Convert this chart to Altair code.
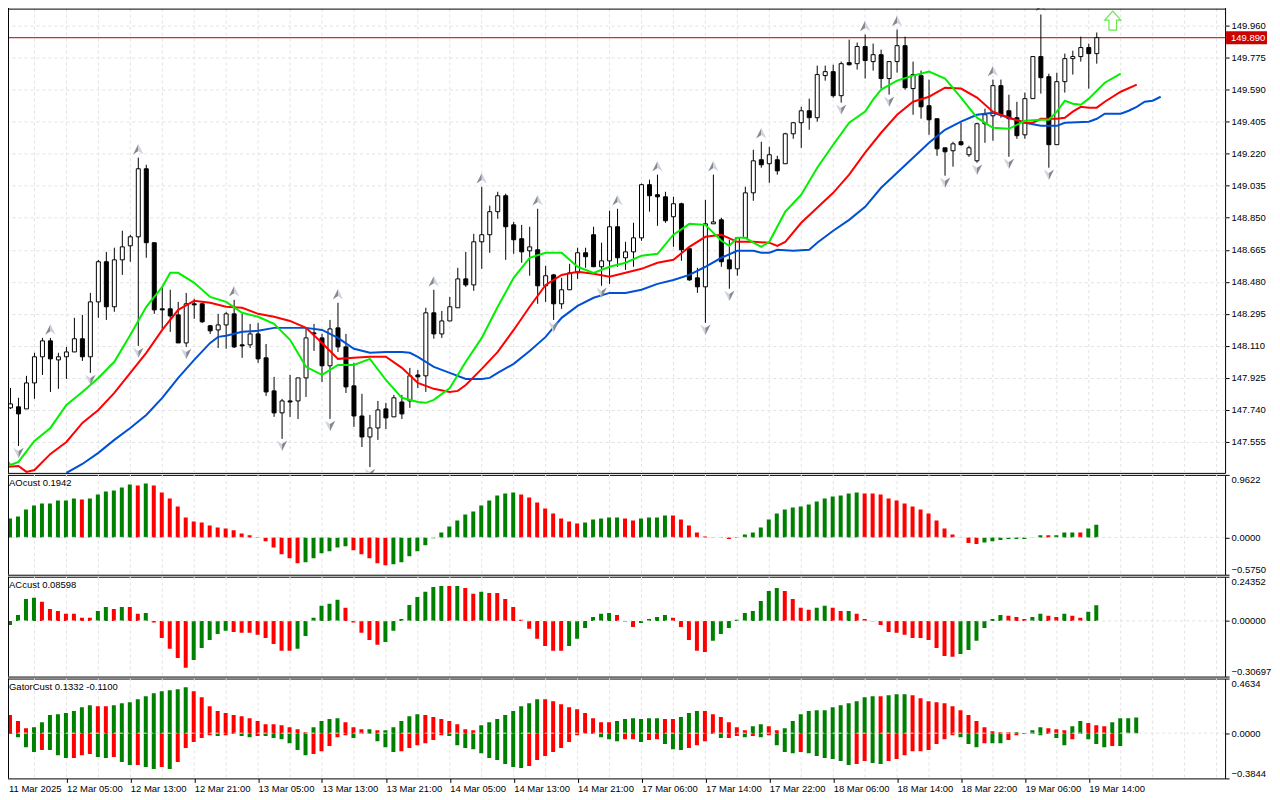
import json
import re
import altair as alt
import pandas as pd

FONT = "Liberation Sans"

# ---------- candles (bar index = position in list) ----------
opens = [147.833,147.752,147.758,147.746,147.896,148.047,148.139,148.029,148.047,148.075,148.151,148.047,148.364,148.596,148.336,148.607,148.688,148.740,149.133,148.706,
148.324,148.324,148.289,148.127,148.353,148.353,148.226,148.202,148.231,148.295,148.116,148.116,148.179,148.041,147.850,147.723,147.792,147.792,147.925,148.185,
148.156,147.995,148.214,148.104,147.879,147.705,147.584,147.636,147.746,147.700,147.786,147.792,147.942,147.937,148.301,148.179,148.254,148.330,148.497,148.462,
148.711,148.752,148.885,148.977,148.809,148.729,148.659,148.665,148.457,148.520,148.353,148.434,148.532,148.648,148.752,148.567,148.601,148.798,148.619,148.653,
148.734,149.041,148.983,148.971,148.856,148.931,148.671,148.503,148.451,148.815,148.838,148.607,148.555,148.734,148.994,149.185,149.162,149.185,149.162,149.335,
149.399,149.468,149.428,149.671,149.694,149.555,149.746,149.740,149.839,149.752,149.792,149.654,149.752,149.844,149.596,149.671,149.497,149.422,149.254,149.237,
149.289,149.214,149.179,149.393,149.439,149.613,149.468,149.428,149.329,149.538,149.781,149.665,149.272,149.636,149.769,149.781,149.833,149.798]
highs = [147.856,147.867,147.810,147.937,148.070,148.156,148.156,148.070,148.104,148.272,148.289,148.416,148.607,148.653,148.677,148.775,148.752,149.197,149.156,148.706,
148.451,148.434,148.364,148.416,148.382,148.359,148.231,148.295,148.307,148.376,148.295,148.237,148.243,148.121,147.931,147.804,147.942,147.925,148.214,148.237,
148.180,148.260,148.359,148.179,148.012,147.833,147.711,147.792,147.781,147.827,147.827,147.983,147.971,148.330,148.434,148.312,148.393,148.561,148.653,148.757,
149.029,148.920,149.000,148.989,148.826,148.809,148.798,148.902,148.573,148.526,148.503,148.584,148.677,148.677,148.798,148.706,148.891,148.902,148.711,148.821,
149.047,149.070,149.099,149.000,148.971,148.937,148.671,148.561,148.954,149.099,148.850,148.723,148.734,149.029,149.243,149.289,149.260,149.208,149.341,149.399,
149.491,149.538,149.729,149.729,149.734,149.752,149.879,149.862,149.908,149.856,149.821,149.752,149.937,149.896,149.752,149.700,149.648,149.422,149.254,149.289,
149.399,149.266,149.399,149.480,149.648,149.648,149.561,149.520,149.573,149.781,150.024,149.682,149.688,149.798,149.815,149.896,149.856,149.920]
lows = [147.740,147.746,147.532,147.746,147.804,147.942,147.844,147.862,147.919,148.075,148.023,147.954,148.272,148.260,148.307,148.520,148.596,148.110,148.619,148.295,
148.208,148.191,148.127,148.104,148.266,148.243,148.179,148.098,148.093,148.098,148.041,148.098,148.012,147.821,147.700,147.573,147.700,147.688,147.815,148.081,
147.902,147.688,148.075,147.838,147.642,147.526,147.410,147.567,147.630,147.700,147.688,147.752,147.867,147.844,148.151,148.156,148.254,148.330,148.451,148.428,
148.555,148.648,148.844,148.607,148.642,148.590,148.515,148.353,148.364,148.260,148.324,148.434,148.497,148.561,148.567,148.457,148.468,148.567,148.549,148.567,
148.717,148.885,148.804,148.821,148.682,148.601,148.486,148.416,148.243,148.815,148.567,148.440,148.515,148.734,148.948,149.139,149.052,149.099,149.162,149.306,
149.254,149.358,149.405,149.642,149.544,149.515,149.729,149.706,149.654,149.700,149.596,149.561,149.688,149.590,149.445,149.422,149.329,149.208,149.093,149.145,
149.266,149.202,149.168,149.283,149.295,149.428,149.202,149.306,149.306,149.538,149.567,149.139,149.272,149.573,149.677,149.752,149.596,149.740]
closes = [147.758,147.775,147.717,147.896,148.047,148.139,148.035,148.047,148.075,148.151,148.047,148.364,148.596,148.336,148.607,148.682,148.740,149.133,148.706,148.318,
148.318,148.283,148.127,148.353,148.347,148.249,148.197,148.231,148.295,148.104,148.110,148.179,148.035,147.844,147.723,147.792,147.786,147.925,148.156,148.179,
147.995,148.208,148.104,147.873,147.705,147.584,147.636,147.740,147.694,147.810,147.717,147.937,147.931,148.301,148.179,148.254,148.336,148.497,148.462,148.711,
148.752,148.885,148.977,148.798,148.723,148.653,148.682,148.457,148.515,148.353,148.434,148.532,148.648,148.625,148.567,148.601,148.798,148.619,148.653,148.734,
149.041,148.977,148.971,148.833,148.931,148.665,148.491,148.451,148.815,148.826,148.596,148.555,148.734,148.994,149.179,149.156,149.214,149.121,149.335,149.399,
149.468,149.428,149.677,149.694,149.555,149.740,149.734,149.839,149.758,149.792,149.654,149.752,149.844,149.601,149.677,149.491,149.416,149.248,149.231,149.277,
149.272,149.254,149.393,149.445,149.613,149.445,149.422,149.324,149.538,149.781,149.659,149.272,149.636,149.769,149.781,149.833,149.798,149.890]

# ---------- averages ----------
green_i = [0,1,2,4,6,8,10,12,14,16,18,20,21,22,24,26,28,30,32,34,36,38,40,42,44,46,48,50,52,53,54,56,58,60,62,64,66,68,70,72,74,76,78,80,82,84,86,88,90,91,92,93,94,95,96,98,100,102,104,106,108,109,110,112,114,116,118,120,122,124,126,128,130,131,132,133,134,135,136,138,140]
green_v = [147.480,147.422,147.440,147.561,147.636,147.769,147.844,147.925,148.018,148.173,148.336,148.451,148.532,148.532,148.474,148.393,148.364,148.301,148.278,148.237,148.145,147.989,147.942,148.000,148.000,148.035,147.913,147.810,147.786,147.781,147.798,147.867,148.018,148.156,148.336,148.503,148.619,148.648,148.648,148.567,148.532,148.567,148.590,148.631,148.642,148.752,148.815,148.809,148.717,148.688,148.734,148.734,148.706,148.682,148.711,148.885,148.983,149.139,149.272,149.399,149.463,149.532,149.590,149.642,149.671,149.694,149.654,149.544,149.428,149.370,149.364,149.410,149.416,149.416,149.463,149.526,149.509,149.503,149.538,149.630,149.682]
red_i = [0,2,3,4,6,8,10,12,14,16,18,20,22,24,26,28,30,32,34,36,38,40,42,44,46,48,50,52,54,56,57,58,60,62,64,66,68,70,72,74,76,78,80,82,84,86,88,90,92,94,96,97,98,100,102,104,106,108,110,112,114,116,118,120,122,124,126,128,129,130,132,133,134,135,136,137,138,140,142]
red_v = [147.410,147.416,147.382,147.393,147.486,147.555,147.665,147.740,147.838,147.954,148.070,148.202,148.318,148.370,148.359,148.336,148.330,148.295,148.278,148.254,148.214,148.127,148.035,148.041,148.047,148.047,147.983,147.896,147.862,147.844,147.850,147.884,147.977,148.075,148.202,148.336,148.462,148.520,148.538,148.526,148.509,148.532,148.555,148.590,148.607,148.682,148.740,148.752,148.711,148.711,148.706,148.688,148.711,148.821,148.908,148.994,149.099,149.226,149.341,149.445,149.520,149.549,149.601,149.596,149.544,149.463,149.428,149.399,149.399,149.422,149.422,149.428,149.463,149.491,149.486,149.486,149.520,149.578,149.619]
blue_i = [8,10,12,14,16,18,20,22,24,26,27,28,30,32,34,36,38,40,42,44,46,48,50,51,52,54,56,58,60,61,62,64,66,68,70,72,74,76,78,80,82,84,86,88,90,92,94,95,96,97,99,101,102,104,106,108,110,112,114,116,118,120,122,124,126,128,130,132,133,136,137,138,140,141,142,143,144,145]
blue_v = [147.376,147.428,147.492,147.567,147.636,147.711,147.810,147.925,148.029,148.127,148.162,148.168,148.191,148.197,148.214,148.214,148.214,148.202,148.156,148.093,148.070,148.075,148.075,148.070,148.047,147.989,147.954,147.919,147.919,147.925,147.954,148.006,148.081,148.162,148.272,148.341,148.388,148.416,148.416,148.434,148.468,148.491,148.520,148.567,148.619,148.659,148.659,148.648,148.648,148.665,148.659,148.665,148.706,148.775,148.838,148.913,149.023,149.110,149.197,149.283,149.358,149.405,149.445,149.457,149.428,149.399,149.381,149.381,149.399,149.405,149.422,149.451,149.451,149.468,149.491,149.520,149.526,149.549]

fractal_up = [6,17,29,42,54,60,67,77,82,89,95,108,112,124,130]
fractal_down = [2,11,17,23,35,41,46,69,75,88,91,105,111,118,122,126,131]

price_ticks = [147.555,147.740,147.925,148.110,148.295,148.480,148.665,148.850,149.035,149.220,149.405,149.590,149.775,149.960]
current_price = 149.890
signal_i, signal_price = 139, 149.989

first_time_label = "11 Mar 2025"
time_labels = ["","12 Mar 05:00","12 Mar 13:00","12 Mar 21:00","13 Mar 05:00","13 Mar 13:00","13 Mar 21:00","14 Mar 05:00","14 Mar 13:00","14 Mar 21:00","17 Mar 06:00","17 Mar 14:00","17 Mar 22:00","18 Mar 06:00","18 Mar 14:00","18 Mar 22:00","19 Mar 06:00","19 Mar 14:00"]

# ---------- AO ----------
ao_v = [.246,.292,.323,.430,.492,.522,.522,.568,.568,.599,.584,.599,.660,.707,.722,.768,.814,.799,.829,.799,.691,.599,.476,.307,.246,.230,.184,.154,.138,.108,.061,.031,.005,-.061,-.154,-.261,-.323,-.399,-.384,-.323,-.246,-.215,-.154,-.138,-.200,-.261,-.323,-.399,-.430,-.415,-.384,-.292,-.215,-.123,-.015,.077,.169,.261,.353,.399,.492,.568,.645,.676,.691,.660,.614,.538,.445,.369,.292,.246,.215,.230,.276,.292,.307,.307,.292,.261,.292,.307,.307,.338,.338,.276,.184,.077,.015,-.005,-.010,-.026,-.010,.046,.077,.154,.276,.369,.430,.461,.476,.507,.553,.599,.630,.645,.676,.691,.676,.676,.660,.599,.568,.522,.476,.430,.369,.261,.138,.046,.003,-.087,-.102,-.077,-.061,-.041,-.026,-.026,-.026,-.005,.031,.031,.031,.077,.077,.077,.138,.1942]
ao_runs = "R1G9R1G6R1G1R19G6R5G16R8G5R2G4R8G16R15G8R1G3R1G2"

# ---------- AC ----------
ac_v = [-.086,-.022,.033,.121,.127,.105,.066,.055,.039,.039,.017,.017,.055,.077,.066,.077,.077,.039,.044,-.009,-.094,-.154,-.204,-.259,-.215,-.149,-.105,-.072,-.055,-.061,-.066,-.066,-.077,-.094,-.127,-.165,-.165,-.154,-.083,.017,.083,.094,.116,.072,-.009,-.066,-.105,-.132,-.116,-.055,.011,.088,.132,.160,.187,.193,.193,.193,.182,.149,.160,.154,.154,.121,.077,.006,-.044,-.099,-.138,-.165,-.165,-.138,-.099,-.039,.022,.039,.044,.033,-.004,-.033,-.011,.011,.022,.033,.017,-.033,-.105,-.165,-.171,-.110,-.072,-.039,.006,.044,.055,.110,.165,.182,.165,.121,.072,.061,.072,.083,.072,.055,.055,.039,.011,-.002,-.022,-.061,-.066,-.077,-.094,-.094,-.105,-.149,-.193,-.198,-.182,-.160,-.110,-.039,.011,.033,.028,.022,.011,.022,.039,.028,.022,.039,.028,.017,.050,.0860]
ac_runs = "G5R7G2R1G1R2G1R5G5R8G6R5G8R1G1R2G1R10G6R3G4R5G9R4G2R2G1R13G6R3G2R2G1R2G2"

# ---------- Gator ----------
gu_v = [.170,.153,.102,.042,.051,.093,.153,.161,.170,.187,.220,.237,.229,.229,.237,.254,.263,.288,.314,.339,.356,.365,.373,.390,.356,.305,.229,.187,.170,.153,.144,.127,.102,.076,.076,.068,.051,.034,.008,.051,.102,.119,.127,.093,.051,.034,.034,.025,.025,.051,.102,.144,.161,.153,.136,.119,.102,.076,.034,.025,.068,.093,.119,.153,.187,.229,.254,.288,.288,.271,.246,.220,.203,.170,.127,.093,.093,.102,.119,.127,.119,.127,.127,.119,.119,.136,.170,.187,.187,.161,.136,.093,.051,.025,.059,.076,.059,.025,.042,.102,.161,.187,.195,.195,.220,.237,.254,.271,.305,.314,.314,.322,.331,.331,.322,.297,.271,.263,.254,.229,.195,.153,.102,.051,.017,.008,.008,.008,.001,.025,.051,.042,.034,.025,.059,.102,.085,.068,.059,.093,.127,.127,.1332]
gu_runs = "G1R3G8R2G10R15G4R3G1R1G5R7G8R9G6R2G3R6G2R2G12R1G3R13G1R1G2R3G2R3G4"
gl_v = [-.085,-.008,-.034,-.119,-.161,-.144,-.144,-.187,-.212,-.212,-.187,-.178,-.203,-.212,-.203,-.246,-.271,-.271,-.288,-.305,-.288,-.305,-.246,-.127,-.076,-.042,-.017,-.025,-.017,-.008,-.025,-.034,-.025,-.025,-.042,-.051,-.085,-.144,-.187,-.178,-.153,-.110,-.034,-.017,-.042,-.006,-.006,-.068,-.119,-.161,-.153,-.127,-.102,-.085,-.059,-.017,-.025,-.102,-.127,-.136,-.170,-.212,-.229,-.263,-.288,-.297,-.280,-.229,-.195,-.161,-.127,-.076,-.017,-.003,-.008,-.034,-.051,-.068,-.051,-.051,-.076,-.059,-.051,-.093,-.136,-.144,-.127,-.102,-.068,-.008,-.042,-.042,-.025,-.034,-.025,-.034,-.017,-.102,-.161,-.170,-.161,-.170,-.195,-.212,-.220,-.237,-.271,-.263,-.237,-.254,-.263,-.237,-.220,-.187,-.153,-.153,-.144,-.093,-.051,-.017,-.034,-.093,-.119,-.085,-.085,-.085,-.059,-.017,-.008,-.008,-.017,-.008,-.042,-.102,-.051,-.008,-.051,-.093,-.119,-.110,-.110]
gl_runs = "R1G4R1G3R3G2R1G2R1G2R1G1R5G1R1G3R1G6R5G1R1G4R6G10R7G5R2G1R2G3R4G1R2G1R1G1R1G3R1G6R2G2R9G3R1G2R4G1R1G2R2G3R1G1"


def expand(runs):
    return [c for c, k in re.findall(r"([GR])(\d+)", runs) for _ in range(int(k))]


# ---------- tables ----------
n = len(closes)
candles = pd.DataFrame({"i": range(n), "o": opens, "h": highs, "l": lows, "c": closes})
candles["dir"] = ["u" if c >= o else "d" for o, c in zip(opens, closes)]
up_df = pd.DataFrame({"i": fractal_up, "v": [highs[k] for k in fractal_up]})
down_df = pd.DataFrame({"i": fractal_down, "v": [lows[k] for k in fractal_down]})
grid_df = pd.DataFrame({"i": list(range(4, 153, 4))})
zero_df = pd.DataFrame({"v": [0.0]})

xs = alt.Scale(domain=[-0.0625, 153.0625], nice=False, zero=False, padding=0)
GRID = "#e2e2e2"
W = 1225


def X(axis=None):
    return alt.X("i:Q", scale=xs, axis=axis, title=None)


def vgrid(xaxis=None):
    return alt.Chart(grid_df).mark_rule(color=GRID, strokeDash=[3, 3], strokeWidth=1).encode(x=X(xaxis))


def left_edge():
    return alt.Chart(zero_df).mark_rule(color="black", strokeWidth=1).encode(
        x=alt.value(6.5), y=alt.value(0), y2=alt.value(471))


def time_axis():
    expr = json.dumps(time_labels) + "[datum.value/8]"
    return alt.Axis(values=list(range(0, 137, 8)), labelExpr=expr, labelAlign="left", labelFlush=False,
                    labelOverlap=False, labelFont=FONT, labelFontSize=9.5, labelColor="black", labelPadding=1,
                    tickSize=4, tickColor="black", domain=False, grid=False)


def y_axis(values, fmt, sub=False):
    kw = dict(values=values, format=fmt, orient="right", labelFont=FONT, labelFontSize=9.5, labelColor="black",
              labelPadding=2, labelFlush=False, labelOverlap=False, tickSize=4, tickColor="black", domain=False,
              grid=not sub, gridColor=GRID, gridDash=[3, 3], gridWidth=1)
    if sub:
        kw["labelBaseline"] = alt.expr("datum.value>0?'top':(datum.value<0?'bottom':'middle')")
    return alt.Axis(**kw)


# ---------- price pane ----------
ps = alt.Scale(domain=[147.3764, 150.0926], nice=False, zero=False)
P_AXIS = y_axis(price_ticks, ".3f")


def Yp(field):
    return alt.Y(field, scale=ps, axis=P_AXIS, title=None)


wicks = alt.Chart(candles).mark_rule(color="black", strokeWidth=1, clip=True).encode(x=X(), y=Yp("l:Q"), y2="h:Q")
bodies = alt.Chart(candles).mark_bar(size=4, stroke="black", strokeWidth=1, orient="vertical", clip=True).encode(
    x=X(), y=Yp("o:Q"), y2="c:Q",
    fill=alt.Fill("dir:N", scale=alt.Scale(domain=["u", "d"], range=["white", "black"]), legend=None))


def ma(idx, vals, colour):
    return alt.Chart(pd.DataFrame({"i": idx, "v": vals})).mark_line(
        color=colour, strokeWidth=2, clip=True, interpolate="linear").encode(x=X(), y=Yp("v:Q"))


U_L = "M0,-1 L-1,1 L0,0.35 Z"
U_R = "M0,-1 L1,1 L0,0.35 Z"
D_L = "M0,1 L-1,-1 L0,-0.35 Z"
D_R = "M0,1 L1,-1 L0,-0.35 Z"


def arrow(df, path, colour, off):
    return alt.Chart(df).mark_point(shape=path, size=110, filled=True, fill=colour, strokeWidth=0, opacity=1,
                                    yOffset=off, clip=True).encode(x=X(), y=Yp("v:Q"))


signal = alt.Chart(pd.DataFrame({"i": [signal_i], "v": [signal_price]})).mark_point(
    shape="M0,-1 L0.85,-0.05 L0.4,-0.05 L0.4,1 L-0.4,1 L-0.4,-0.05 L-0.85,-0.05 Z",
    size=361, filled=True, fill="white", stroke="#66e84a", strokeWidth=1.2, opacity=1).encode(x=X(), y=Yp("v:Q"))

cp = pd.DataFrame({"i": [0], "v": [current_price], "t": [f"{current_price:.3f}"]})
price_line = alt.Chart(cp).mark_rule(color="#b00000", strokeWidth=1).encode(y=Yp("v:Q"))
price_box = alt.Chart(cp).mark_rect(color="#cc0000", height=13).encode(x=alt.value(W + 1), x2=alt.value(W + 42), y=Yp("v:Q"))
price_text = alt.Chart(cp).mark_text(color="white", font=FONT, fontSize=9.5, align="left", baseline="middle").encode(
    x=alt.value(W + 6), y=Yp("v:Q"), text="t:N")
top_edge = alt.Chart(zero_df).mark_rule(color="black", strokeWidth=1).encode(
    y=alt.value(6.5), x=alt.value(6), x2=alt.value(W))

main = alt.layer(
    vgrid(), price_line, wicks, bodies,
    ma(blue_i, blue_v, "#0050d4"), ma(red_i, red_v, "#ff0000"), ma(green_i, green_v, "#00f000"),
    arrow(up_df, U_L, "#85888e", -8.5), arrow(up_df, U_R, "#cdd4de", -8.5),
    arrow(down_df, D_L, "#cdd4de", 7), arrow(down_df, D_R, "#85888e", 7),
    signal, price_box, price_text, top_edge, left_edge(),
).properties(width=W, height=471)


def bars(vals, dirs, scale, axis, xaxis=None):
    df = pd.DataFrame({"i": range(len(vals)), "v": vals, "d": dirs})
    return alt.Chart(df).mark_bar(size=4, orient="vertical", xOffset=-0.5, clip=True).encode(
        x=X(xaxis), y=alt.Y("v:Q", scale=scale, axis=axis, title=None),
        color=alt.Color("d:N", scale=alt.Scale(domain=["G", "R"], range=["#008000", "#ff0000"]), legend=None))


def zero_rule(scale, axis, xaxis=None):
    return alt.Chart(zero_df).mark_rule(color=GRID, strokeDash=[3, 3], strokeWidth=1).encode(
        y=alt.Y("v:Q", scale=scale, axis=axis, title=None))


def title(text, y=8):
    return alt.Chart(pd.DataFrame({"t": [text]})).mark_text(
        align="left", baseline="middle", font=FONT, fontSize=9.5, color="black").encode(
        x=alt.value(7), y=alt.value(y), text="t:N")


def sub_edge():
    return alt.Chart(zero_df).mark_rule(color="black", strokeWidth=1).encode(
        x=alt.value(6.5), y=alt.value(0), y2=alt.value(100))


ao_s = alt.Scale(domain=[-0.5750, 0.9622], nice=False, zero=False)
ac_s = alt.Scale(domain=[-0.30697, 0.24352], nice=False, zero=False)
gt_s = alt.Scale(domain=[-0.3844, 0.4634], nice=False, zero=False)
ao_a = y_axis([-0.5750, 0, 0.9622], ".4f", True)
ac_a = y_axis([-0.30697, 0, 0.24352], ".5f", True)
gt_a = y_axis([-0.3844, 0, 0.4634], ".4f", True)
t_a = time_axis()

ao = alt.layer(vgrid(), bars(ao_v, expand(ao_runs), ao_s, ao_a), zero_rule(ao_s, ao_a),
               title("AOcust 0.1942"), sub_edge()).properties(width=W, height=100)
ac = alt.layer(vgrid(), bars(ac_v, expand(ac_runs), ac_s, ac_a), zero_rule(ac_s, ac_a),
               title("ACcust 0.08598"), sub_edge()).properties(width=W, height=100)
gt = alt.layer(vgrid(t_a), bars(gu_v, expand(gu_runs), gt_s, gt_a, t_a), bars(gl_v, expand(gl_runs), gt_s, gt_a, t_a),
               zero_rule(gt_s, gt_a), title("GatorCust 0.1332 -0.1100"), title(first_time_label, 111), sub_edge()).properties(width=W, height=100)

chart = alt.vconcat(main, ao, ac, gt, spacing=2, bounds="flush").resolve_scale(
    x="independent", y="independent", color="independent", fill="independent"
).properties(
    padding={"left": -7, "top": -7, "right": 0, "bottom": 0}, background="white"
).configure_view(stroke="black", strokeWidth=1)

chart.save("out.html", embed_options={"renderer": "svg", "actions": False})
